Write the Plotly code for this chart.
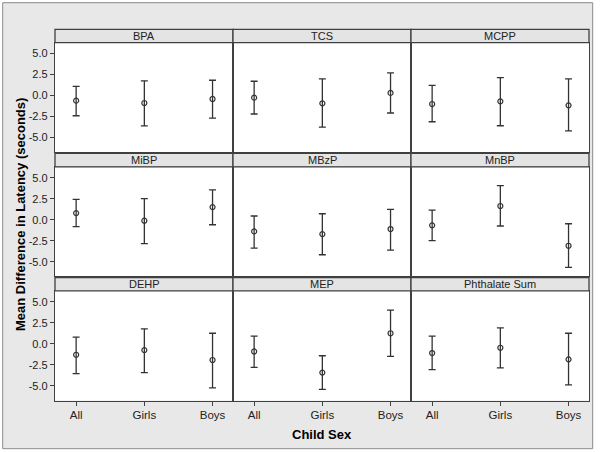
import plotly.graph_objects as go

W, H = 601, 452

panels = ["BPA", "TCS", "MCPP", "MiBP", "MBzP", "MnBP", "DEHP", "MEP", "Phthalate Sum"]
groups = ["All", "Girls", "Boys"]

# mean difference and 95% CI (lower, upper) per panel, for All / Girls / Boys
means = {
    "BPA": [-0.60, -0.88, -0.40],
    "TCS": [-0.24, -0.92, 0.32],
    "MCPP": [-1.00, -0.68, -1.16],
    "MiBP": [0.79, -0.12, 1.50],
    "MBzP": [-1.39, -1.71, -1.11],
    "MnBP": [-0.67, 1.63, -3.10],
    "DEHP": [-1.30, -0.75, -1.93],
    "MEP": [-0.91, -3.43, 1.26],
    "Phthalate Sum": [-1.10, -0.47, -1.85],
}
lower = {
    "BPA": [-2.40, -3.60, -2.67],
    "TCS": [-2.19, -3.75, -2.07],
    "MCPP": [-3.11, -3.59, -4.19],
    "MiBP": [-0.83, -2.85, -0.60],
    "MBzP": [-3.38, -4.17, -3.61],
    "MnBP": [-2.50, -0.75, -5.68],
    "DEHP": [-3.54, -3.43, -5.24],
    "MEP": [-2.80, -5.43, -1.50],
    "Phthalate Sum": [-3.07, -2.87, -4.88],
}
upper = {
    "BPA": [1.10, 1.75, 1.83],
    "TCS": [1.71, 2.00, 2.71],
    "MCPP": [1.23, 2.15, 2.00],
    "MiBP": [2.42, 2.50, 3.56],
    "MBzP": [0.44, 0.71, 1.23],
    "MnBP": [1.15, 4.05, -0.48],
    "DEHP": [0.79, 1.77, 1.26],
    "MEP": [0.91, -1.42, 4.02],
    "Phthalate Sum": [0.91, 1.89, 1.26],
}
y_ticks = [-5.0, -2.5, 0.0, 2.5, 5.0]
y_tick_labels = ["-5.0", "-2.5", "0.0", "2.5", "5.0"]

# layout geometry in pixels
col_x = [(55, 233), (233, 411), (411, 589)]
strip_tops = [29.3, 153.4, 277.5]
strip_h = 13.4
panel_h = 109.6

def px(x):
    return x / W

def py(y):
    return 1 - y / H

fig = go.Figure()
shapes = []
annotations = []
layout = {}

# outer background box
shapes.append(dict(type="rect", xref="paper", yref="paper",
                   x0=px(2.7), x1=px(592.7), y0=py(448.7), y1=py(2.7),
                   fillcolor="#e8e8e8", line=dict(color="#8a8a8a", width=1), layer="below"))

for i, name in enumerate(panels):
    r, c = divmod(i, 3)
    idx = i + 1
    xa = "xaxis" if idx == 1 else f"xaxis{idx}"
    ya = "yaxis" if idx == 1 else f"yaxis{idx}"
    xr = "x" if idx == 1 else f"x{idx}"
    yr = "y" if idx == 1 else f"y{idx}"
    x0, x1 = col_x[c]
    st = strip_tops[r]
    pt = st + strip_h
    pb = pt + panel_h

    m = means[name]
    lo = lower[name]
    up = upper[name]
    fig.add_trace(go.Scatter(
        x=groups, y=m, mode="markers",
        marker=dict(symbol="circle-open", size=5, color="#333333", line=dict(width=1.2, color="#333333")),
        error_y=dict(type="data", symmetric=False,
                     array=[u - v for u, v in zip(up, m)],
                     arrayminus=[v - l for v, l in zip(m, lo)],
                     color="#333333", thickness=1.3, width=3.5),
        xaxis=xr, yaxis=yr, showlegend=False, hoverinfo="skip"))

    layout[xa] = dict(domain=[px(x0), px(x1)], anchor=yr, type="category",
                      categoryarray=groups, categoryorder="array",
                      range=[-0.31, 2.3], showgrid=False, zeroline=False,
                      showline=True, mirror=True, linecolor="#404040", linewidth=1.3,
                      ticks="outside" if r == 2 else "", ticklen=4, tickcolor="#404040",
                      showticklabels=(r == 2),
                      tickfont=dict(family="Liberation Sans, Arial", size=11.5, color="#222222"),
                      fixedrange=True)
    layout[ya] = dict(domain=[py(pb), py(pt)], anchor=xr, range=[-6.75, 6.3],
                      tickvals=y_ticks, ticktext=y_tick_labels,
                      showgrid=False, zeroline=False,
                      showline=True, mirror=True, linecolor="#404040", linewidth=1.3,
                      ticks="outside" if c == 0 else "", ticklen=4, tickcolor="#404040",
                      showticklabels=(c == 0),
                      tickfont=dict(family="Liberation Sans, Arial", size=11, color="#222222"),
                      fixedrange=True)

    # zero reference line
    shapes.append(dict(type="line", xref=f"{xr} domain", yref=yr, x0=0, x1=1, y0=0, y1=0,
                       line=dict(color="#c4c4c4", width=1.5), layer="below"))
    # white panel background
    shapes.append(dict(type="rect", xref="paper", yref="paper",
                       x0=px(x0), x1=px(x1), y0=py(pb), y1=py(pt),
                       fillcolor="white", line=dict(width=0), layer="below"))
    # strip
    shapes.append(dict(type="rect", xref="paper", yref="paper",
                       x0=px(x0), x1=px(x1), y0=py(pt), y1=py(st),
                       fillcolor="#e4e4e4", line=dict(color="#404040", width=1.3), layer="above"))
    annotations.append(dict(xref="paper", yref="paper", x=px((x0 + x1) / 2), y=py(st + strip_h / 2),
                            text=name, showarrow=False, xanchor="center", yanchor="middle",
                            font=dict(family="Liberation Sans, Arial", size=11, color="#222222")))

annotations.append(dict(xref="paper", yref="paper", x=px(322), y=py(434),
                        text="<b>Child Sex</b>", showarrow=False, xanchor="center", yanchor="middle",
                        font=dict(family="Liberation Sans, Arial", size=13, color="#000000")))
annotations.append(dict(xref="paper", yref="paper", x=px(20), y=py(215),
                        text="<b>Mean Difference in Latency (seconds)</b>", showarrow=False,
                        textangle=-90, xanchor="center", yanchor="middle",
                        font=dict(family="Liberation Sans, Arial", size=13, color="#000000")))

fig.update_layout(
    width=W, height=H,
    margin=dict(l=0, r=0, t=0, b=0),
    paper_bgcolor="white", plot_bgcolor="rgba(0,0,0,0)",
    shapes=shapes, annotations=annotations,
    **layout,
)

fig.write_html("out.html", config={"displayModeBar": False},
               post_script="document.body.style.margin='0';")
